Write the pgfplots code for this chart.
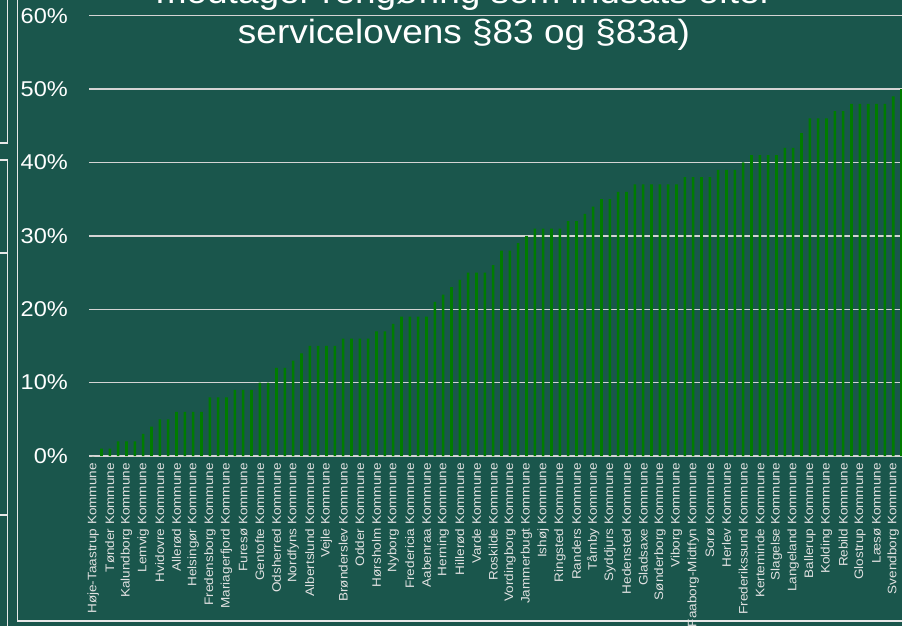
\documentclass[border=0pt]{standalone}
\usepackage{pgfplots}
\pgfplotsset{compat=1.18}
\usepackage{fontspec}
\setmainfont{Liberation Sans}[FakeStretch=1.1]
\definecolor{bg}{RGB}{26,86,76}
\definecolor{bargreen}{RGB}{0,124,0}
\definecolor{gridc}{RGB}{212,212,212}
\definecolor{framec}{RGB}{232,232,232}
\definecolor{labc}{RGB}{225,225,225}
\begin{document}
\begin{tikzpicture}[x=1pt,y=1pt]
\fill[bg] (-5,-5) rectangle (910,630);
\begin{axis}[
  at={(89pt,169pt)}, anchor=south west,
  scale only axis, width=816.7pt, height=440.3pt,
  xmin=-0.5, xmax=97.5, ymin=0, ymax=60,
  ybar, bar width=2.6pt,
  axis line style={draw=none},
  major tick length=0pt,
  ymajorgrids, grid style={gridc, line width=1.4pt},
  ytick={0,10,...,60},
  yticklabels={0\%,10\%,20\%,30\%,40\%,50\%,60\%},
  yticklabel style={font=\fontsize{21.4}{24}\selectfont, text=white, anchor=east, inner sep=0pt, xshift=-21pt},
  xtick={0,2,...,96},
  xticklabels={Høje-Taastrup Kommune,Tønder Kommune,Kalundborg Kommune,Lemvig Kommune,Hvidovre Kommune,Allerød Kommune,Helsingør Kommune,Fredensborg Kommune,Mariagerfjord Kommune,Furesø Kommune,Gentofte Kommune,Odsherred Kommune,Nordfyns Kommune,Albertslund Kommune,Vejle Kommune,Brønderslev Kommune,Odder Kommune,Hørsholm Kommune,Nyborg Kommune,Fredericia Kommune,Aabenraa Kommune,Herning Kommune,Hillerød Kommune,Varde Kommune,Roskilde Kommune,Vordingborg Kommune,Jammerbugt Kommune,Ishøj Kommune,Ringsted Kommune,Randers Kommune,Tårnby Kommune,Syddjurs Kommune,Hedensted Kommune,Gladsaxe Kommune,Sønderborg Kommune,Viborg Kommune,Faaborg-Midtfyn Kommune,Sorø Kommune,Herlev Kommune,Frederikssund Kommune,Kerteminde Kommune,Slagelse Kommune,Langeland Kommune,Ballerup Kommune,Kolding Kommune,Rebild Kommune,Glostrup Kommune,Læsø Kommune,Svendborg Kommune},
  xticklabel style={font=\fontsize{12.3}{14}\selectfont, text=labc, rotate=90, anchor=east, inner sep=0pt, xshift=-7pt},
]
\addplot[fill=bargreen, draw=none] table {
x y
0 0
1 1
2 1
3 2
4 2
5 2
6 3
7 4
8 5
9 5
10 6
11 6
12 6
13 6
14 8
15 8
16 8
17 9
18 9
19 9
20 10
21 10
22 12
23 12
24 13
25 14
26 15
27 15
28 15
29 15
30 16
31 16
32 16
33 16
34 17
35 17
36 18
37 19
38 19
39 19
40 19
41 21
42 22
43 23
44 24
45 25
46 25
47 25
48 26
49 28
50 28
51 29
52 30
53 31
54 31
55 31
56 31
57 32
58 32
59 33
60 34
61 35
62 35
63 36
64 36
65 37
66 37
67 37
68 37
69 37
70 37
71 38
72 38
73 38
74 38
75 39
76 39
77 39
78 40
79 41
80 41
81 41
82 41
83 42
84 42
85 44
86 46
87 46
88 46
89 47
90 47
91 48
92 48
93 48
94 48
95 48
96 49
97 50
};
\end{axis}
\node[anchor=base, text=white, font=\fontsize{33.6}{40}\selectfont, inner sep=0pt] at (464,621) {modtager rengøring som indsats efter};
\node[anchor=base, text=white, font=\fontsize{33.6}{40}\selectfont, inner sep=0pt] at (464,581) {servicelovens §83 og §83a)};
% frame fragments of the surrounding page
\draw[framec, line width=1.3pt] (17.5,630) -- (17.5,4) -- (910,4);
\draw[framec, line width=1.3pt] (-2,482) -- (7.5,482) -- (7.5,630);
\draw[framec, line width=1.3pt] (-2,465) -- (7.5,465) -- (7.5,372) -- (-2,372);
\draw[framec, line width=1.3pt] (7.5,372) -- (7.5,110) -- (-2,110);
\draw[framec, line width=1.3pt] (7.5,110) -- (7.5,-5);
\pgfresetboundingbox
\useasboundingbox (0,0) rectangle (902,625);
\end{tikzpicture}
\end{document}
